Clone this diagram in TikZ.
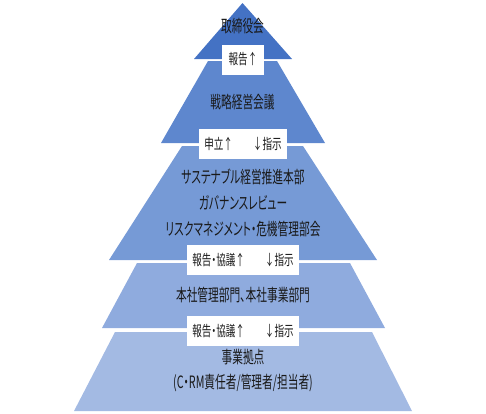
\documentclass[tikz,border=0pt]{standalone}
\usepackage{fontspec}
\newfontfamily\jp[FakeStretch=0.63, RawFeature=+palt]{Noto Sans CJK JP}
\newfontfamily\jpb[FakeStretch=0.66, RawFeature=+palt]{Noto Sans CJK JP}
\definecolor{c1}{RGB}{68,114,196}
\definecolor{c2}{RGB}{94,135,206}
\definecolor{c3}{RGB}{118,154,214}
\definecolor{c4}{RGB}{143,171,222}
\definecolor{c5}{RGB}{163,186,227}
\begin{document}
\begin{tikzpicture}[x=1pt,y=-1pt,
  lbl/.style={font=\jp\fontsize{17}{19}\selectfont, inner sep=0pt, text=black!90},
  wbox/.style={fill=white, font=\jpb\fontsize{14.5}{16}\selectfont, inner sep=0pt, minimum height=30pt, text=black!90}]
\useasboundingbox (0,0) rectangle (486,413);
\fill[c5] (115,332) -- (372,332) -- (412,411) -- (74,411) -- cycle;
\fill[c4] (137,263) -- (350,263) -- (385,328) -- (102,328) -- cycle;
\fill[c3] (182,146) -- (303,146) -- (377,260) -- (109,260) -- cycle;
\fill[c2] (208,61) -- (277,61) -- (325,143) -- (161,143) -- cycle;
\fill[c1] (242.5,3) -- (292,59) -- (194,59) -- cycle;
\node[lbl] (t1) at (242.5,26) {取締役会};
\node[lbl] (t2) at (242.5,102) {戦略経営会議};
\node[lbl] (t3a) at (243,177) {サステナブル経営推進本部};
\node[lbl] (t3b) at (243,203) {ガバナンスレビュー};
\node[lbl] (t3c) at (243,229) {リスクマネジメント・危機管理部会};
\node[lbl] (t4) at (243,295) {本社管理部門、本社事業部門};
\node[lbl] (t5a) at (243,357) {事業拠点};
\node[lbl] (t5b) at (243,383) {(C・RM責任者/管理者/担当者)};
\node[wbox, minimum width=42pt] (b1) at (243,59.5) {報告↑};
\node[wbox, minimum width=88pt] (b2) at (243,144) {申立↑\hspace{20pt}↓指示};
\node[wbox, minimum width=112pt] (b3) at (243,260) {報告・協議↑\hspace{20pt}↓指示};
\node[wbox, minimum width=112pt] (b4) at (243,331) {報告・協議↑\hspace{20pt}↓指示};
\end{tikzpicture}
\end{document}
